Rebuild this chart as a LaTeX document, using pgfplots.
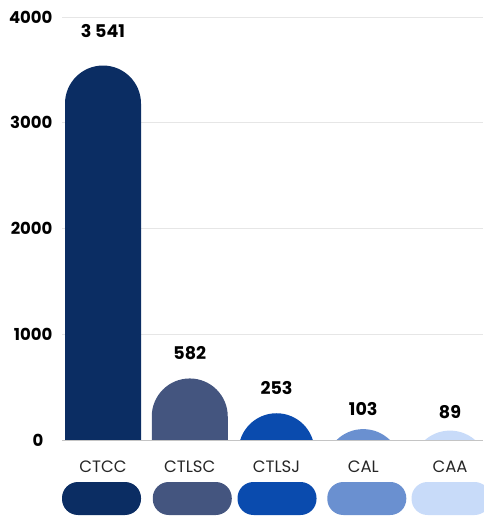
\documentclass[border=0pt]{standalone}
\usepackage{pgfplots}
\pgfplotsset{compat=1.18}
\usepackage{fontspec}
\setmainfont{Poppins}
\definecolor{cA}{HTML}{0B2D63}
\definecolor{cB}{HTML}{44557F}
\definecolor{cC}{HTML}{0A4BAE}
\definecolor{cD}{HTML}{6A90D0}
\definecolor{cE}{HTML}{C8DBF9}
\definecolor{gridc}{HTML}{E6E6E6}
\definecolor{basec}{HTML}{C4C4C4}
\pgfdeclareplotmark{pill}{%
  \pgfpathmoveto{\pgfpoint{-38pt}{-38pt}}%
  \pgfpatharc{180}{0}{38pt}%
  \pgfpathlineto{\pgfpoint{38pt}{-600pt}}%
  \pgfpathlineto{\pgfpoint{-38pt}{-600pt}}%
  \pgfpathclose
  \pgfusepathqfill
}
\begin{document}
\begin{tikzpicture}
\useasboundingbox (-62pt,-76pt) rectangle (421pt,440pt);
\begin{axis}[
  at={(0pt,0pt)}, anchor=south west,
  scale only axis, width=421pt, height=423pt,
  xmin=-0.4726, xmax=4.380,
  ymin=0, ymax=4000,
  clip marker paths=true,
  axis line style={draw=none},
  tick style={draw=none},
  xtick={0,1,2,3,4},
  xticklabels={CTCC,CTLSC,CTLSJ,CAL,CAA},
  xticklabel style={font=\fontsize{16.5}{18}\selectfont, text=black!85, anchor=center, yshift=-27pt},
  ytick={1000,2000,3000,4000},
  yticklabels={1000,2000,3000,4000},
  extra y ticks={0},
  extra y tick labels={0\hspace*{9pt}},
  extra y tick style={grid style={basec, line width=0.8pt}},
  yticklabel style={font=\bfseries\fontsize{16.5}{18}\selectfont, anchor=east, xshift=-6pt},
  /pgf/number format/assume math mode=true,
  scaled y ticks=false,
  ymajorgrids,
  grid style={gridc, line width=0.8pt},
  point meta=explicit symbolic,
  nodes near coords={\pgfplotspointmeta},
  every node near coord/.append style={font=\bfseries\fontsize{17.5}{18}\selectfont, anchor=center, text=black},
]
\addplot[only marks, mark=pill, mark options={fill=cA, draw=none}, every node near coord/.append style={yshift=35pt}] coordinates {(0,3541) [3 541]};
\addplot[only marks, mark=pill, mark options={fill=cB, draw=none}, every node near coord/.append style={yshift=25pt}] coordinates {(1,582) [582]};
\addplot[only marks, mark=pill, mark options={fill=cC, draw=none}, every node near coord/.append style={yshift=25pt}] coordinates {(2,253) [253]};
\addplot[only marks, mark=pill, mark options={fill=cD, draw=none}, every node near coord/.append style={yshift=20pt}] coordinates {(3,103) [103]};
\addplot[only marks, mark=pill, mark options={fill=cE, draw=none}, every node near coord/.append style={yshift=19pt}] coordinates {(4,89) [89]};
\coordinate (c0) at (axis cs:0,0);
\coordinate (c1) at (axis cs:1,0);
\coordinate (c2) at (axis cs:2,0);
\coordinate (c3) at (axis cs:3,0);
\coordinate (c4) at (axis cs:4,0);
\end{axis}
\foreach \c/\i/\dx in {cA/0/-1.5pt, cB/1/2.5pt, cC/2/0.5pt, cD/3/3.5pt, cE/4/1pt}
  \node[fill=\c, rounded corners=16pt, minimum width=79pt, minimum height=33pt, inner sep=0pt]
    at ([xshift=\dx, yshift=-58.5pt]c\i) {};
\end{tikzpicture}
\end{document}
